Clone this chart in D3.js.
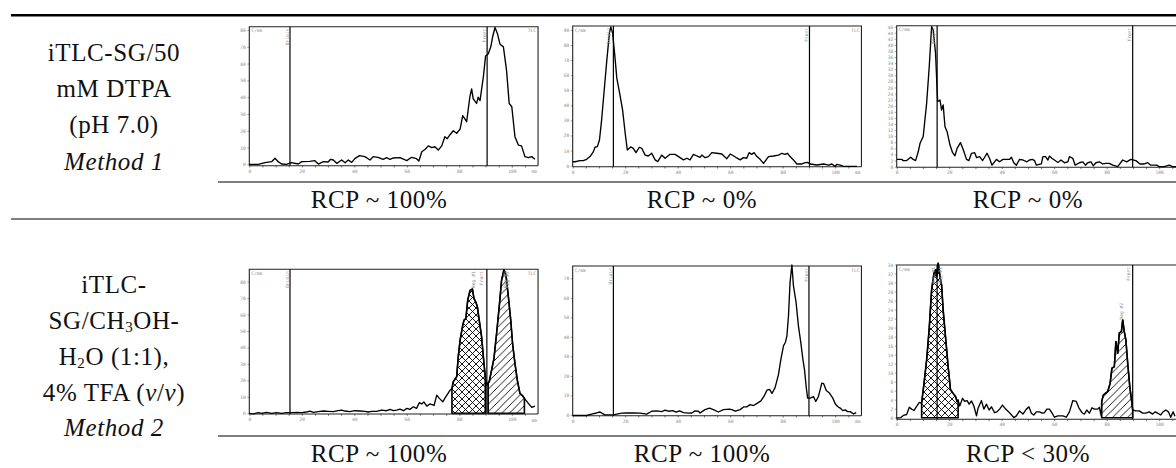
<!DOCTYPE html>
<html><head><meta charset="utf-8">
<script src="https://cdn.jsdelivr.net/npm/d3@7"></script>
<style>
body{margin:0;background:#fff;}
svg{display:block;}
</style></head><body>
<svg id="c" width="1176" height="468"></svg>
<script>
// ---------------- DATA ----------------
const row1Lines = [[["iTLC-SG/50",""]],[["mM DTPA",""]],[["(pH 7.0)",""]],[["Method 1","i"]]];
const row2Lines = [[["iTLC-",""]],[["SG/CH",""],["3","sub"],["OH-",""]],[["H",""],["2","sub"],["O (1:1),",""]],[["4% TFA (",""],["v","i"],["/",""],["v","i"],[")",""]],[["Method 2","i"]]];
const rcpLabels = ["RCP ~ 100%","RCP ~ 0%","RCP ~ 0%","RCP ~ 100%","RCP ~ 100%","RCP < 30%"];
const xTickLabels = [0,20,40,60,80,100];
const xMinorTicks = [0,5,10,15,20,25,30,35,40,45,50,55,60,65,70,75,80,85,90,95,100,105];
const yTicks1 = [0,10,20,30,40,50,60,70,80];
const yTicks2 = [0,10,20,30,40,50,60,70,80,90];
const yTicks3 = [0,2,4,6,8,10,12,14,16,18,20,22,24,26,28,30,32,34,36,38,40,42,44,46];
const yTicks4 = [0,10,20,30,40,50,60,70,80];
const yTicks5 = [0,10,20,30,40,50,60,70];
const yTicks6 = [0,2,4,6,8,10,12,14,16,18,20,22,24,26,28,30,32,34];
const origins = [15.5,15.5,15.4,15.5,15.5,15.4];
const fronts  = [90.6,90.2,89.9,90.5,90.0,89.9];

const trace1 = [[0,0],[3.4,0],[6,1],[8.5,1.6],[9.8,3.6],[11,1.6],[12.3,0.2],[14.2,0],[16,1],[18.7,0.2],[20,1.6],[23,1.8],[25,2.2],[26.3,0.2],[28.2,1.6],[30,1.4],[31,3],[32,2.6],[33.3,0.6],[35.2,2.6],[36.5,1],[37.7,2.6],[39,1.2],[40.3,3.6],[42,5.2],[44,4.6],[46,2.6],[47.2,4.6],[49,4.2],[51,3],[52.3,4],[53.6,3],[54.9,3.8],[57.4,4],[60,2.2],[61.8,4.2],[63.7,3.4],[64.6,2],[65.7,7.5],[67,9],[68.2,11],[69.5,10],[70.7,10.5],[72,8.5],[73.3,11],[74.5,16.5],[75.4,15.3],[76.4,17.5],[77.7,20],[79,18.5],[80.3,21],[81.3,29],[82.8,25.4],[84,40],[84.7,45],[85.3,39],[86.6,36.3],[87.2,40],[87.9,38],[89.2,52.6],[90,64.5],[91,65.7],[92,70],[92.7,76],[93.6,81.5],[94.5,78],[95.5,71.6],[96.8,70],[98,56],[99,36.3],[100,34.3],[101.2,16.5],[102.5,11.5],[103.7,11],[105,4.6],[106.3,4],[107.6,4.6],[108.8,3]];
const trace2 = [[0,2.6],[0.9,2.6],[2.8,3.3],[4,3.3],[5.3,4.2],[6.6,6],[7.9,9.3],[8.5,12.2],[9.4,12.6],[10.2,17],[11,30],[11.9,48],[13,70],[14,88],[14.5,92],[15.2,88],[16.1,72],[16.8,58],[18,47],[19,37],[20,21.5],[20.8,10.4],[22.1,12.4],[23.1,11.5],[24.1,8.6],[25.4,12.2],[26.3,11.5],[27.6,7],[28.8,6.4],[30.1,8.2],[31.4,3.8],[32.4,2.7],[33.9,7],[35.2,4.9],[37.1,7.5],[39,7.5],[40.3,6],[42.2,3.8],[43.5,4.9],[44.7,3.8],[46,7.5],[47.3,6.4],[48.5,5.5],[49.2,7],[50.4,5.3],[51.7,6],[53,8.6],[54.9,8.2],[56.8,7.7],[58.7,4.6],[60,7.7],[60.9,6.9],[62.5,5.1],[63.8,3.8],[65,5.3],[66.3,4.9],[67.2,8.6],[68.2,7.5],[69.1,8.6],[70.1,6.2],[71.4,4.2],[72.7,1.5],[74.6,6],[76.5,6.4],[78.4,7],[79.7,8.2],[80.9,7.5],[81.8,8.2],[82.8,6],[84.1,3.8],[85.4,1.1],[87.3,1.1],[88.6,2],[89.5,2.2],[90.5,1.1],[93,0.4],[95.6,1.1],[97.5,0.4],[98.7,1.1],[100,-0.5],[100.6,0.9],[101.9,0.4],[103.2,-0.5],[108.3,-0.5]];
const trace3 = [[0,2.4],[1.9,2.4],[2.5,2],[3.8,2],[5.3,3.1],[6.3,2.4],[7.2,2],[8.2,4.9],[8.9,7.7],[10.1,9.9],[11.4,20.8],[12.4,32.9],[13.3,46],[13.9,44.9],[14.8,37.2],[15.6,21.4],[16.5,21.9],[17.1,18.6],[17.7,20.3],[18.4,13.1],[19.2,11.5],[20.3,7.1],[21.3,4.6],[22.2,3.6],[23,6],[24.3,7.9],[25.3,5.7],[26.6,2.4],[27.5,2],[28.5,4.4],[29.7,4.6],[30.4,3],[31.6,3.3],[32.7,2],[33.5,3.1],[34.4,4.4],[35.4,2.7],[36.3,0.5],[38,2.4],[39.2,1.6],[40.5,2.4],[43,2.4],[43.7,3.1],[44.6,1.3],[45.6,0.5],[46.8,2.4],[48.1,2.2],[49.6,1.6],[50.6,2.2],[51.7,2.4],[52.5,2],[53.2,0.5],[55.1,0.9],[55.7,3.3],[56.7,3.3],[57.6,2.2],[58.2,3.5],[59.2,2.7],[60.1,2.2],[61.4,1.4],[62.6,2.2],[63.9,1.3],[65.2,1.6],[65.8,3.3],[67.1,2.7],[68,0.5],[69.6,1.3],[70.9,1.6],[71.9,0.5],[72.8,1.3],[74,1.6],[74.9,0.3],[75.9,1.3],[77.2,1.6],[78.5,0.9],[79.7,1.1],[81,1.1],[82.3,0.5],[84.2,0],[86.1,2.2],[87.6,1.6],[89.2,2.4],[91.1,2],[92.7,0.9],[94.3,0.9],[95.6,1.3],[96.8,0.5],[99,0.5],[100,0],[101.9,0],[103.8,0.5],[105,0],[108,0]];
const trace4 = [[0,0],[1.5,-0.3],[3.4,0.4],[4.7,0],[6.6,0.6],[8.5,0],[10.4,0.4],[12.3,0],[14.2,0.4],[16.1,0.4],[18,0.6],[20,0.4],[21.8,0.8],[23.1,1.4],[24.4,0.6],[26.3,1],[28.2,1.4],[30,1.2],[32,1],[33.9,1.6],[35.2,2],[36.4,1.4],[38.3,1],[40.2,1.6],[42.2,1.4],[44,1.2],[45.3,0.8],[46.6,1.2],[48.5,1.2],[50.4,2],[52.3,1.6],[53.6,2.4],[54.9,1.6],[56.1,2],[57.4,2.6],[58.7,1.6],[60,3],[61.2,2.4],[62.5,4],[63.7,3],[64.8,6.5],[65.7,5.7],[66.5,6.9],[67.6,4.4],[68.8,5.7],[70.4,4.8],[71.4,11.1],[72.4,9.1],[73.7,7],[74.9,10.1],[76.5,14.1],[77.2,15.1],[77.7,19.2],[79,22.2],[79.6,34.3],[80.3,44.4],[81.3,53.5],[81.8,56.6],[82.5,57.6],[83.2,68.7],[84.1,74.7],[85,75.5],[85.6,69.7],[86.3,67.6],[86.9,64.6],[87.6,56.5],[88.5,46.4],[89.4,30.3],[89.9,22.2],[90.4,17.2],[91.0,18.5],[91.4,19.2],[92.3,26.2],[93.2,33.3],[94.2,48.5],[95.2,64.6],[96.1,80.8],[97,87.3],[97.8,83.8],[98.7,70.7],[99.6,56.5],[100.3,42.4],[101.2,30.3],[102.1,20.2],[103.1,12.1],[104.1,10.7],[104.8,9.1],[106.3,6.1],[107.6,3.6],[108.8,4.4]];
const trace5 = [[0,-0.3],[2.8,-0.3],[5.3,-0.3],[7.2,0.4],[9.1,1],[10.4,1.5],[11.4,0.7],[12.3,0],[15.5,0],[16.8,0.4],[18.7,0.9],[20.6,1],[23.1,1],[25.7,0.9],[28.2,0.4],[30.1,1.9],[32,2.1],[33.9,1.7],[35.2,2.4],[36.5,1.9],[38.1,2.2],[39.4,1.4],[40.7,2.1],[42.2,1.2],[44.1,0.9],[45.4,1],[46.6,2.1],[47.9,1.9],[48.5,1],[50.4,2.7],[52.1,3.5],[53.6,2.7],[55.5,1.5],[57.4,2.7],[59.7,3],[60.6,2.7],[61.9,1.9],[63.8,2.7],[65.1,4.1],[66.3,4.1],[67.6,5.3],[68.9,4.8],[70.1,5.8],[71.7,7.2],[72.9,9.6],[74,12.7],[75,13.1],[75.9,11],[77.1,14],[78.4,20.8],[79.3,28.5],[80.3,35.4],[81,37.1],[81.6,40.4],[82.2,50.7],[82.8,67.9],[83.5,76.8],[84.1,66.1],[85.1,57.6],[86,45.5],[86.9,37],[87.7,28.4],[88.3,23.2],[89,13.8],[89.5,8.6],[90.5,8.6],[91.7,9.4],[92.6,6.9],[93.6,9.4],[94.9,16.3],[95.6,16],[96.6,12.5],[97.8,11.2],[99.1,8.6],[100,5.7],[100.9,4.3],[101.9,3.5],[102.9,2.2],[103.8,2.6],[104.7,1.7],[105.7,1.7],[107,0.5],[108,1.2]];
const trace6 = [[0,-0.1],[1.5,0],[2.5,0.5],[3.8,0.7],[4.8,2.3],[5.7,1.9],[6.6,1.6],[7.6,2.5],[8.6,3.4],[9.5,3.2],[10.4,7.6],[11.4,12.8],[12.4,19.9],[13.3,28.4],[14.2,32.1],[14.8,32.8],[15.2,31.3],[15.8,34.3],[16.5,31.3],[17.1,29.5],[17.7,23.9],[18.7,17.3],[19.6,11.3],[20.5,6.2],[21.5,5.4],[22.4,4.7],[23,3.6],[23.4,3.9],[24,2.6],[25.1,4.3],[25.9,3.6],[26.8,3.8],[27.6,3],[28.5,3.7],[29.4,2.6],[30.4,0.4],[31,2.1],[32.3,3.8],[33.2,1.9],[34.2,3],[35.2,1.7],[36.1,2.4],[37.3,1.1],[38.2,1.3],[39.2,1.9],[40.3,2.8],[41.5,1.9],[43,1.1],[44.6,0],[45.6,0.4],[46.8,1.5],[48.1,0.8],[49.4,1.9],[50.4,2.4],[51.3,1],[52.2,0.6],[53.2,1.3],[54.4,1.3],[55.4,1],[56.3,1.1],[57.2,1.9],[58.2,1.9],[59.2,1],[60.1,0.1],[61.4,0.4],[63.3,0.4],[64.6,0.1],[65.8,1.3],[67.1,3.8],[68.4,3.6],[69.4,2.2],[70.6,1.1],[71.5,0.8],[72.4,1.7],[73.4,1],[74.4,2.2],[75.3,1.9],[76.6,1.9],[77.2,2.3],[77.9,0.4],[78.1,3.6],[78.7,5],[79.5,5.4],[80.4,5.8],[81.3,7.6],[82,11],[82.9,11.3],[83.5,16.9],[84.2,14.3],[84.8,18.8],[85.6,19.1],[86.1,21.7],[86.7,19.1],[87.3,17.3],[88,12.1],[88.8,6.9],[89.6,3.2],[89.9,1.7],[91.1,1.5],[92.4,1.5],[93.7,1],[94.9,1],[96.2,1.3],[97.5,0.8],[98.5,1.3],[99.4,1],[100.6,0.6],[101.3,1.2],[102.5,1.7],[103.5,1.3],[104.4,0.1],[105.3,1.3],[106,0.3]];

// regions of interest [start mm, end mm, pattern]
const regions4 = [[77.2,89.9,"cross"],[91.0,104.8,"diag"]];
const regions6 = [[9.5,23.4,"cross"],[78.1,89.9,"diag"]];
// small vertical markers: [text, mm]
const marks1 = [["Origin",15.5],["Front",90.6]];
const marks2 = [["Origin",14.6],["Front",90.2]];
const marks3 = [["Origin",15.1],["Front",89.9]];
const marks4 = [["Origin",15.5],["Reg #1",86.6],["Front",89.5],["Reg #2",98.6],["Reg #2",99.4]];
const marks5 = [["Origin",15.5],["Front",90.0]];
const marks6 = [["Reg #1",15.0],["Reg #1",17.6],["Front",89.5],["Reg #2",86.6]];

// ---------------- LAYOUT ----------------
const W = 1176;
const svg = d3.select("#c");
const serif = "'Liberation Serif','Times New Roman',serif";
const mono = "'DejaVu Sans Mono',monospace";

const defs = svg.append("defs");
const pc = defs.append("pattern").attr("id","cross").attr("patternUnits","userSpaceOnUse").attr("width",7).attr("height",7);
pc.append("rect").attr("width",7).attr("height",7).attr("fill","#fff");
pc.append("path").attr("d","M0,0L7,7M7,0L0,7").attr("stroke","#000").attr("stroke-width",0.9);
const pdg = defs.append("pattern").attr("id","diag").attr("patternUnits","userSpaceOnUse").attr("width",7.5).attr("height",7.5);
pdg.append("rect").attr("width",7.5).attr("height",7.5).attr("fill","#fff");
pdg.append("path").attr("d","M0,7.5L7.5,0M-1,1L1,-1M6.5,8.5L8.5,6.5").attr("stroke","#000").attr("stroke-width",0.9);

// table rules
svg.append("line").attr("x1",11).attr("x2",W).attr("y1",15.3).attr("y2",15.3).attr("stroke","#000").attr("stroke-width",2.6);
svg.append("line").attr("x1",11).attr("x2",W).attr("y1",219).attr("y2",219).attr("stroke","#000").attr("stroke-width",1.1);
svg.append("line").attr("x1",218).attr("x2",W).attr("y1",182).attr("y2",182).attr("stroke","#000").attr("stroke-width",1.1);
svg.append("line").attr("x1",218).attr("x2",W).attr("y1",436).attr("y2",436).attr("stroke","#000").attr("stroke-width",1.1);

// left column labels
function drawLines(lines, baselines){
  lines.forEach((segs,k)=>{
    const t = svg.append("text").attr("x",114).attr("y",baselines[k]).attr("text-anchor","middle")
      .attr("font-family",serif).attr("font-size",25).attr("fill","#111").attr("letter-spacing",0.6);
    let prevSub = false;
    segs.forEach(([s,st])=>{
      const ts = t.append("tspan").text(s);
      if(st==="i") ts.attr("font-style","italic");
      if(st==="sub"){ ts.attr("font-size",15).attr("dy",3); prevSub = true; }
      else if(prevSub){ ts.attr("dy",-3); prevSub = false; }
    });
  });
}
drawLines(row1Lines,[61,97,133,170]);
drawLines(row2Lines,[293,329,365,401,436]);

// RCP labels
const rcpX = [379,702,1028], rcpY=[208,462];
rcpLabels.forEach((s,i)=>{
  svg.append("text").attr("x",rcpX[i%3]).attr("y",rcpY[Math.floor(i/3)]).attr("text-anchor","middle")
    .attr("font-family",serif).attr("font-size",25).attr("letter-spacing",0.6).attr("fill","#111").text(s);
});

// panels
const panels = [
  {left:249.3,top:26.7,bottom:165.7,yDom:[-0.8,82],  ticks:yTicks1,trace:trace1,regions:[],      marks:marks1},
  {left:572.7,top:26,  bottom:166.7,yDom:[-0.7,92.6],ticks:yTicks2,trace:trace2,regions:[],      marks:marks2},
  {left:896.7,top:25.7,bottom:167.3,yDom:[-0.2,46.3],ticks:yTicks3,trace:trace3,regions:[],      marks:marks3},
  {left:249.3,top:269.3,bottom:414, yDom:[-0.4,87.5],ticks:yTicks4,trace:trace4,regions:regions4,marks:marks4},
  {left:572.7,top:266, bottom:415.7,yDom:[-0.4,76.3],ticks:yTicks5,trace:trace5,regions:[],      marks:marks5},
  {left:896.7,top:265, bottom:419.3,yDom:[-0.36,33.9],ticks:yTicks6,trace:trace6,regions:regions6,marks:marks6}
];
const tickCol = "#8c8c8c";

panels.forEach((p,i)=>{
  const x = d3.scaleLinear().domain([0,110]).range([p.left,p.left+288.75]);
  const y = d3.scaleLinear().domain(p.yDom).range([p.bottom,p.top]);
  const g = svg.append("g");
  const fits = x(110) < W - 4;   // right-hand texts only where the panel is not cut by the page edge

  // y axis
  const ya = g.append("g").attr("transform",`translate(${p.left},0)`)
    .call(d3.axisLeft(y).tickValues(p.ticks).tickSize(2).tickPadding(1.5).tickFormat(d3.format("d")));
  ya.select(".domain").remove();
  ya.selectAll("line").attr("stroke",tickCol).attr("stroke-width",0.8);
  ya.selectAll("text").attr("font-family",mono).attr("font-size",4.6).attr("fill",tickCol);

  // x axis minor ticks + labels
  const xa = g.append("g").attr("transform",`translate(0,${p.bottom})`)
    .call(d3.axisBottom(x).tickValues(xMinorTicks).tickSize(1.8).tickPadding(2).tickFormat(d=>xTickLabels.includes(d)?String(d):""));
  xa.select(".domain").remove();
  xa.selectAll("line").attr("stroke","#555").attr("stroke-width",0.8);
  xa.selectAll("text").attr("font-family",mono).attr("font-size",4.6).attr("fill",tickCol);
  if(fits) g.append("text").attr("x",x(108.6)).attr("y",p.bottom+7.6).attr("text-anchor","middle")
    .attr("font-family",mono).attr("font-size",4.6).attr("fill",tickCol).text("mm");

  // regions
  p.regions.forEach(([a,b,pat])=>{
    const pts = p.trace.filter(d=>d[0]>=a-1e-6 && d[0]<=b+1e-6);
    g.append("path").datum(pts)
      .attr("d",d3.area().x(d=>x(d[0])).y0(y(0)).y1(d=>y(d[1])))
      .attr("fill",`url(#${pat})`).attr("stroke","#000").attr("stroke-width",1.6).attr("stroke-linejoin","round");
  });

  // frame
  g.append("path").attr("d",`M${x(0)},${p.bottom}V${p.top}H${x(110)}V${p.bottom}`)
    .attr("fill","none").attr("stroke","#222").attr("stroke-width",1.1);
  g.append("line").attr("x1",x(0)).attr("x2",x(110)).attr("y1",p.bottom).attr("y2",p.bottom)
    .attr("stroke","#222").attr("stroke-width",1.1);

  // origin & front lines
  [origins[i],fronts[i]].forEach(v=>{
    g.append("line").attr("x1",x(v)).attr("x2",x(v)).attr("y1",p.top).attr("y2",p.bottom)
      .attr("stroke","#000").attr("stroke-width",1.2);
  });

  // trace
  g.append("path").datum(p.trace)
    .attr("d",d3.line().x(d=>x(d[0])).y(d=>y(d[1])))
    .attr("fill","none").attr("stroke","#000").attr("stroke-width",1.35).attr("stroke-linejoin","round");

  // small marker labels (vertical)
  p.marks.forEach(([s,v])=>{
    let yy = p.top+2;
    if(i===5 && s==="Reg #2") yy = y(25.5);
    g.append("text").attr("transform",`translate(${x(v)-1.2},${yy}) rotate(-90)`)
      .attr("text-anchor","end").attr("font-family",mono).attr("font-size",4.6).attr("fill",tickCol).text(s);
  });

  g.append("text").attr("x",x(0)+2).attr("y",p.top+5.5).attr("font-family",mono).attr("font-size",4.6).attr("fill",tickCol).text("C/mm");
  if(fits) g.append("text").attr("x",x(110)-2).attr("y",p.top+5.5).attr("text-anchor","end").attr("font-family",mono).attr("font-size",4.6).attr("fill",tickCol).text("TLC");
});
</script>
</body></html>
